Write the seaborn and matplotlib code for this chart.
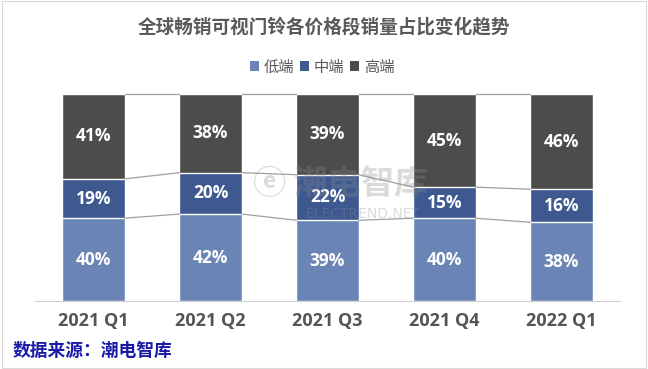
import matplotlib
matplotlib.use("Agg")
import matplotlib.pyplot as plt
import seaborn as sns
import numpy as np
import pandas as pd
from matplotlib.patches import Patch, Rectangle

categories = ["2021 Q1", "2021 Q2", "2021 Q3", "2021 Q4", "2022 Q1"]
low = [40, 42, 39, 40, 38]
mid = [19, 20, 22, 15, 16]
high = [41, 38, 39, 45, 46]
series_names = ["低端", "中端", "高端"]
title = "全球畅销可视门铃各价格段销量占比变化趋势"
source = "数据来源：潮电智库"

colors = ["#6a84b5", "#3e5890", "#4c4c4c"]

sns.set_theme(style="white")
plt.rcParams["font.family"] = ["Noto Sans CJK SC", "DejaVu Sans"]

fig = plt.figure(figsize=(6.48, 3.69), dpi=100)
ax = fig.add_axes([35 / 648, 1 - 301 / 369, 585 / 648, 207 / 369])

low_a = np.array(low)
mid_a = np.array(mid)
high_a = np.array(high)
c1 = low_a
c2 = low_a + mid_a
c3 = low_a + mid_a + high_a

df = pd.DataFrame({"cat": categories, "c1": c1, "c2": c2, "c3": c3})
w = 0.53
sns.barplot(data=df, x="cat", y="c3", color=colors[2], width=w, ax=ax, saturation=1)
sns.barplot(data=df, x="cat", y="c2", color=colors[1], width=w, ax=ax, saturation=1)
sns.barplot(data=df, x="cat", y="c1", color=colors[0], width=w, ax=ax, saturation=1)

# series lines
for cum in (c1, c2, c3):
    for i in range(len(categories) - 1):
        ax.plot([i + w / 2, i + 1 - w / 2], [cum[i], cum[i + 1]], color="#a0a0a0", lw=0.9, zorder=1,
                clip_on=False)

# labels
for i in range(len(categories)):
    for bot, val in ((0, low_a[i]), (c1[i], mid_a[i]), (c2[i], high_a[i])):
        ax.text(i, bot + val / 2, f"{val}%", ha="center", va="center", color="white",
                fontsize=12.5, fontweight="bold", family=["Open Sans", "DejaVu Sans"], zorder=6)

ax.set_ylim(0, 100)
ax.set_xlim(-0.5, len(categories) - 0.5)
ax.set_xlabel("")
ax.set_ylabel("")
ax.set_yticks([])
ax.tick_params(axis="x", length=0, pad=8)
for lab in ax.get_xticklabels():
    lab.set_fontsize(13)
    lab.set_fontweight("bold")
    lab.set_color("#555555")
    lab.set_family(["Open Sans", "DejaVu Sans"])
for s in ("top", "left", "right"):
    ax.spines[s].set_visible(False)
ax.spines["bottom"].set_color("#d0d0d0")
ax.spines["bottom"].set_linewidth(0.8)

# watermark
fig.text(0.525, 0.50, "ⓔ 潮电智库", ha="center", va="center", fontsize=24, fontweight="bold",
         color="#8a8a8a", alpha=0.3, zorder=5)
fig.text(0.56, 0.42, "ELECTREND.NET", ha="center", va="center", fontsize=10,
         color="#8a8a8a", alpha=0.3, zorder=5, family=["DejaVu Sans"])

fig.text(0.5, 0.927, title, ha="center", va="center", fontsize=13.4, fontweight="bold", color="#595959")

handles = [Patch(facecolor=c, edgecolor="none") for c in colors]
fig.legend(handles, series_names, loc="center", bbox_to_anchor=(0.497, 0.818), ncol=3, frameon=False,
           fontsize=11, handlelength=0.6, handleheight=0.6, handletextpad=0.3, columnspacing=0.4,
           labelcolor="#595959")

fig.text(0.02, 1 - 351 / 369, source, ha="left", va="center", fontsize=12.8, fontweight="bold", color="#1a1aa8")

fig.patches.append(Rectangle((0.003, 0.003), 0.994, 0.994, transform=fig.transFigure, fill=False,
                             edgecolor="#d9d9d9", lw=0.8))

fig.savefig("out.png", dpi=100)
